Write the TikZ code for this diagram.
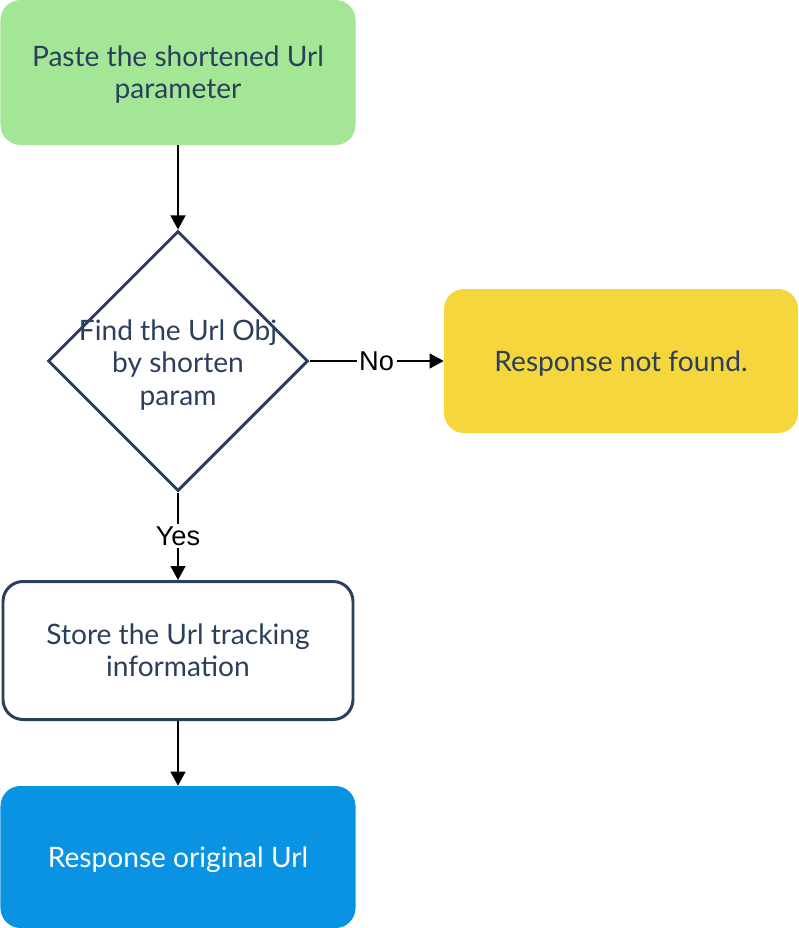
\documentclass[tikz,border=0pt]{standalone}
\usepackage{fontspec}
\setmainfont{Lato}
\newfontfamily\labelfont{Liberation Sans}
\usetikzlibrary{shapes.geometric,arrows.meta}
\definecolor{navy}{HTML}{2B3F5C}
\definecolor{startgreen}{HTML}{A3E796}
\definecolor{failyellow}{HTML}{F5D63D}
\definecolor{endblue}{HTML}{0A93E2}
\tikzset{arrow/.style={-{Triangle[length=0.28cm,width=0.3cm]}, line width=0.7pt}}
\tikzset{flowbox/.style={rectangle, rounded corners=0.4cm, align=center, text=navy,
    font=\fontsize{16}{18.3}\selectfont, inner sep=0pt, text depth=0pt}}
\tikzset{edgelabel/.style={fill=white, inner sep=1.5pt, font=\labelfont\fontsize{15.5}{17}\selectfont}}

\begin{document}
\begin{tikzpicture}
      \useasboundingbox (0, 0) rectangle (15.96, -18.56);

      \node[flowbox, fill=startgreen, minimum width=7.1cm, minimum height=2.9cm] (paste) at (3.56, -1.45) {Paste the shortened Url\\parameter};
      \node[diamond, draw=navy, line width=1.7pt, minimum width=5.2cm, minimum height=5.2cm, inner sep=0pt,
            label={[align=center, text=navy, yshift=-0.08cm, font=\fontsize{16}{18.3}\selectfont]center:Find the Url Obj\\by shorten\\param}] (find) at (3.56, -7.22) {};
      \node[flowbox, fill=failyellow, minimum width=7.08cm, minimum height=2.88cm] (notfound) at (12.42, -7.22) {Response not found.};
      \node[flowbox, draw=navy, line width=1.7pt, minimum width=7.0cm, minimum height=2.76cm] (store) at (3.56, -13.01) {Store the Url tracking\\information};
      \node[flowbox, fill=endblue, text=white, minimum width=7.1cm, minimum height=2.84cm] (orig) at (3.56, -17.14) {Response original Url};

      \draw[arrow] (paste) -- (find);
      \draw[arrow] (find) -- node[edgelabel] {No} (notfound);
      \draw[arrow] (find) -- node[edgelabel] {Yes} (store);
      \draw[arrow] (store) -- (orig);

    \end{tikzpicture}
\end{document}
